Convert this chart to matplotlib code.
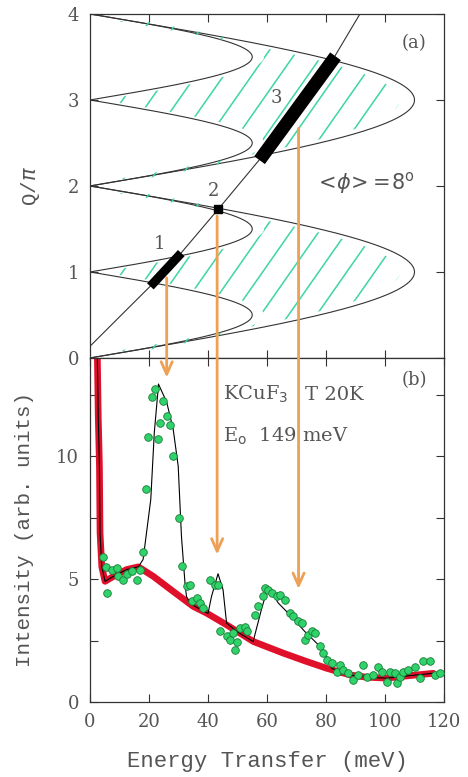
import numpy as np
import matplotlib
matplotlib.use("Agg")
import matplotlib.pyplot as plt
from matplotlib.patches import ConnectionPatch, Polygon

# ---- panel (a): spinon continuum and scan trajectory ----
E_lower_max = 55.0    # meV, lower boundary apex
E_upper_max = 110.0   # meV, upper boundary apex
traj_E = [0.0, 21.5, 29.9, 43.5, 58.8, 81.9, 91.5]
traj_Q = [0.136, 0.871, 1.181, 1.731, 2.362, 3.446, 4.0]
seg1 = ([21.5, 29.9], [0.871, 1.181])
seg2 = ([43.5], [1.731])
seg3 = ([58.8, 81.9], [2.362, 3.446])

# orange arrows: energy, start Q in (a), end intensity in (b)
arrow_E = [26.0, 43.1, 70.7]
arrow_Q0 = [0.93, 1.65, 2.67]
arrow_I1 = [13.2, 6.0, 4.6]

# ---- panel (b): data ----
dots_E = [4.5, 5.4, 5.9, 7.3, 9.0, 9.6, 11.3, 12.4, 14.1, 15.8, 16.9, 18.1,
          18.9, 19.8, 20.9, 22.0, 23.2, 23.7, 24.9, 26.0, 27.1, 28.2, 30.2, 31.1,
          32.8, 33.9, 34.5, 36.2, 37.3, 38.4, 40.7, 42.4, 43.5, 44.1, 46.3, 47.5,
          48.6, 49.2, 49.7, 50.8, 52.5, 53.1, 55.9, 57.1, 58.8, 59.3, 60.5, 61.6,
          63.3, 64.4, 66.1, 67.8, 68.9, 70.6, 71.8, 72.9, 74.0, 75.1, 76.3, 78.0,
          79.1, 80.2, 81.9, 83.6, 84.7, 85.9, 87.6, 89.3, 91.0, 92.7, 93.8, 96.0,
          97.7, 98.9, 100.6, 101.7, 103.4, 104.0, 105.1, 106.2, 107.9, 110.2, 111.9,
          113.0, 115.3, 117.0, 118.6]
dots_I = [5.9, 5.5, 4.44, 5.36, 5.46, 5.12, 4.98, 5.22, 5.32, 4.98, 5.39, 6.1,
          8.65, 10.8, 12.4, 12.73, 10.72, 11.37, 12.26, 11.65, 11.27, 10.0, 7.5, 5.52,
          4.71, 4.78, 4.1, 4.23, 4.03, 3.82, 4.98, 4.78, 4.78, 2.87, 2.67, 2.53,
          2.8, 2.12, 2.46, 3.0, 3.07, 2.87, 3.55, 3.89, 4.3, 4.64, 4.57, 4.44,
          4.3, 4.37, 4.16, 3.62, 3.48, 3.28, 3.21, 2.53, 2.73, 2.87, 2.8, 2.26,
          1.99, 1.71, 1.58, 1.24, 1.51, 1.31, 1.17, 0.9, 1.1, 1.51, 1.03, 1.1,
          1.44, 1.24, 0.83, 1.24, 1.17, 0.76, 1.03, 1.24, 1.31, 1.44, 0.97,
          1.65, 1.65, 1.1, 1.2]

bg_E = [2.5, 2.8, 3.2, 3.4, 4.0, 5.1, 7.9, 12.4, 16.4, 21.5, 28.2, 35.0, 39.5,
        46.3, 55.4, 65.5, 73.4, 80.3, 88.2, 93.8, 100.6, 107.3, 116.4]
bg_I = [14.0, 11.6, 9.6, 6.9, 5.5, 4.91, 5.11, 5.39, 5.5, 5.11, 4.5, 3.89, 3.62,
        3.14, 2.46, 1.99, 1.65, 1.37, 1.10, 1.01, 0.97, 1.06, 1.17]

fit_E = [2.5, 2.8, 3.2, 3.4, 4.0, 5.1, 7.9, 12.4, 16.4, 18.0, 20.6, 21.8, 23.0,
         23.2, 26.0, 28.2, 29.9, 31.0, 32.2, 32.7, 34.0, 37.0, 40.0, 41.2, 43.4,
         45.1, 46.3, 50.0, 55.3, 58.1, 60.4, 63.8, 68.3, 72.8, 77.4, 80.2, 81.9,
         88.2, 93.8, 100.6, 107.3, 116.4]
fit_I = [14.0, 11.6, 9.6, 6.9, 5.5, 4.91, 5.11, 5.39, 5.5, 5.8, 8.24, 10.97, 12.6,
         12.94, 12.2, 11.1, 9.6, 6.75, 4.84, 4.3, 4.0, 3.8, 3.6, 4.3, 5.22,
         4.57, 3.21, 2.85, 2.46, 3.76, 4.71, 4.03, 3.48, 2.87, 2.33, 1.85, 1.37,
         1.10, 1.01, 0.97, 1.06, 1.17]

txt = '#555555'
line_c = '#333333'
hatch_c = '#3cd6a4'
orange = '#eea055'

fig = plt.figure(figsize=(4.68, 7.77), dpi=100)
axa = fig.add_axes([0.1923, 0.5393, 0.7564, 0.4427])
axb = fig.add_axes([0.1923, 0.0965, 0.7564, 0.4428])

# panel (a)
Q = np.linspace(0, 4, 801)
E_lo = E_lower_max * np.abs(np.sin(np.pi * Q))
E_up = E_upper_max * np.abs(np.sin(np.pi * Q / 2))
axa.plot(E_lo, Q, color=line_c, lw=0.8)
axa.plot(E_up, Q, color=line_c, lw=0.8)

# hand-drawn looking hatching inside the continuum, clipped to it
for qa, qb in ((0, 2), (2, 4)):
    qq = np.linspace(qa + 0.08, qb - 0.08, 200)
    lo = E_lower_max * np.abs(np.sin(np.pi * qq)) + 4
    up = E_upper_max * np.abs(np.sin(np.pi * qq / 2)) - 5
    pts = np.vstack([np.column_stack([up, qq]), np.column_stack([lo[::-1], qq[::-1]])])
    clip = Polygon(pts, closed=True, transform=axa.transData, fc='none', ec='none')
    axa.add_patch(clip)
    for e0 in np.arange(-120, 130, 9.5):
        ee = np.array([e0, e0 + 90])
        ln, = axa.plot(ee, qa + 0.049 * (ee - e0) - 0.3, color=hatch_c, lw=1.1)
        ln.set_clip_path(clip)

axa.plot(traj_E, traj_Q, color=line_c, lw=0.8)
axa.plot(*seg1, color='black', lw=6.5, solid_capstyle='projecting')
axa.plot(*seg3, color='black', lw=9.5, solid_capstyle='projecting')
axa.plot(*seg2, 's', color='black', ms=6)
for lab, e, q in (('1', 23.7, 1.32), ('2', 41.8, 1.94), ('3', 63.3, 3.02)):
    axa.text(e, q, lab, fontsize=13, color=txt, family='DejaVu Serif', ha='center', va='center')
axa.text(110, 3.66, '(a)', fontsize=13, color=txt, family='DejaVu Serif', ha='center', va='center')
axa.text(93, 2.03, r'$<\!\phi\!>\!=\!8^{\rm o}$', fontsize=15, color=txt, ha='center', va='center')
axa.set_xlim(0, 120)
axa.set_ylim(0, 4)
axa.set_yticks([0, 1, 2, 3, 4])
axa.set_xticks([20, 40, 60, 80, 100])
axa.tick_params(labelbottom=False)
axa.set_ylabel(r'Q/$\pi$', fontsize=15, color=txt, family='Liberation Mono', labelpad=18)

# panel (b)
axb.plot(bg_E, bg_I, color='#e0102a', lw=4.8, solid_capstyle='round', solid_joinstyle='round')
axb.plot(fit_E, fit_I, color='black', lw=0.8)
axb.scatter(dots_E, dots_I, s=30, color='#2fd36a', edgecolors='#1a7a3a', linewidths=0.6, zorder=3)
axb.set_xlim(0, 120)
axb.set_ylim(0, 14)
axb.set_xticks([0, 20, 40, 60, 80, 100, 120])
axb.set_yticks([0, 2.5, 5, 7.5, 10, 12.5])
axb.set_yticklabels(['0', '', '5', '', '10', ''])
axb.text(110, 13.1, '(b)', fontsize=13, color=txt, family='DejaVu Serif', ha='center', va='center')
axb.text(45.2, 12.5, r'KCuF$_3$', fontsize=14, color=txt, family='DejaVu Serif', va='center')
axb.text(72.9, 12.5, 'T 20K', fontsize=14, color=txt, family='DejaVu Serif', va='center')
axb.text(45.2, 10.8, r'E$_{\rm o}$  149 meV', fontsize=14, color=txt, family='DejaVu Serif', va='center')
axb.set_xlabel('Energy Transfer (meV)', fontsize=16, color=txt, family='Liberation Mono', labelpad=14)
axb.set_ylabel('Intensity (arb. units)', fontsize=15, color=txt, family='Liberation Mono', labelpad=16)

for ax in (axa, axb):
    ax.tick_params(direction='in', top=True, right=True, length=6, width=0.8,
                   labelsize=13, labelcolor=txt, colors=line_c, pad=8)
    for lab in ax.get_xticklabels() + ax.get_yticklabels():
        lab.set_family('DejaVu Serif')
    for s in ax.spines.values():
        s.set_color(line_c)
        s.set_linewidth(0.9)

# orange arrows crossing both panels
for e, q0, i1 in zip(arrow_E, arrow_Q0, arrow_I1):
    con = ConnectionPatch(xyA=(e, q0), coordsA=axa.transData,
                          xyB=(e, i1), coordsB=axb.transData,
                          arrowstyle='->,head_length=0.9,head_width=0.4',
                          color=orange, lw=2.0, zorder=5)
    fig.add_artist(con)

fig.savefig('out.png', dpi=100)
